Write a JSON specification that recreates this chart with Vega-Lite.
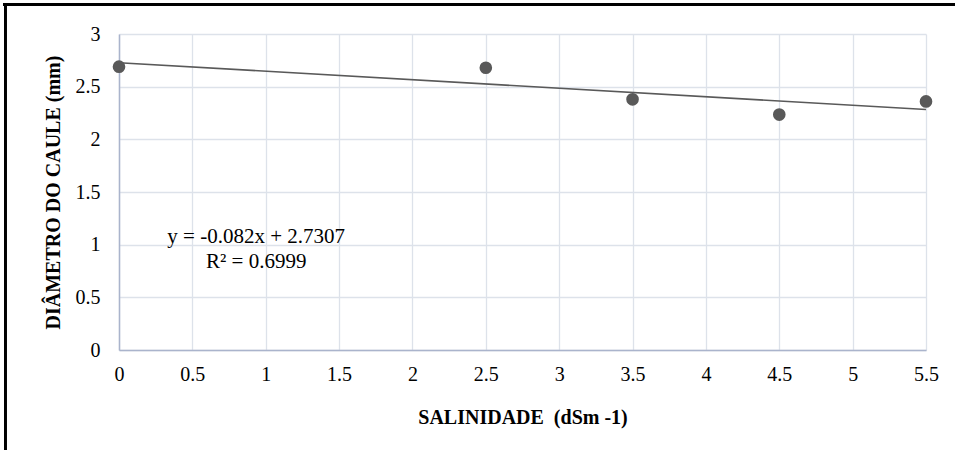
{
  "$schema": "https://vega.github.io/schema/vega-lite/v6.json",
  "width": 807,
  "height": 316,
  "autosize": {"type": "none"},
  "padding": {"left": 119, "top": 34, "right": 29, "bottom": 100},
  "background": "white",
  "config": {
    "view": {"stroke": null},
    "font": "Liberation Serif",
    "axis": {
      "labelFont": "Liberation Serif",
      "titleFont": "Liberation Serif",
      "labelFontSize": 20,
      "labelColor": "#000000",
      "titleColor": "#000000",
      "titleFontSize": 20,
      "titleFontWeight": "bold",
      "gridColor": "#dde2ea",
      "gridWidth": 1.3,
      "domainColor": "#aab4cc",
      "domainWidth": 1.5,
      "ticks": false
    }
  },
  "data": {
    "values": [
      {"salinidade": 0, "diametro": 2.69},
      {"salinidade": 2.5, "diametro": 2.68},
      {"salinidade": 3.5, "diametro": 2.38},
      {"salinidade": 4.5, "diametro": 2.235},
      {"salinidade": 5.5, "diametro": 2.36}
    ]
  },
  "layer": [
    {
      "transform": [
        {"regression": "diametro", "on": "salinidade", "extent": [0, 5.5]}
      ],
      "mark": {"type": "line", "color": "#595959", "strokeWidth": 1.6},
      "encoding": {
        "x": {
          "field": "salinidade",
          "type": "quantitative",
          "scale": {"domain": [0, 5.5], "nice": false, "zero": false},
          "axis": {
            "title": "SALINIDADE\u00a0 (dSm -1)",
            "values": [0, 0.5, 1, 1.5, 2, 2.5, 3, 3.5, 4, 4.5, 5, 5.5],
            "labelPadding": 14,
            "titlePadding": 23,
            "labelFlush": false,
            "format": "~g"
          }
        },
        "y": {
          "field": "diametro",
          "type": "quantitative",
          "scale": {"domain": [0, 3], "nice": false},
          "axis": {
            "title": "DIÂMETRO DO CAULE (mm)",
            "values": [0, 0.5, 1, 1.5, 2, 2.5, 3],
            "labelPadding": 19,
            "titlePadding": 12,
            "labelFlush": false,
            "format": "~g"
          }
        }
      }
    },
    {
      "mark": {"type": "circle", "color": "#595959", "opacity": 1, "size": 160},
      "encoding": {
        "x": {"field": "salinidade", "type": "quantitative"},
        "y": {"field": "diametro", "type": "quantitative"}
      }
    },
    {
      "data": {"values": [{"x": 0.935, "y": 1.07, "label": "y = -0.082x + 2.7307"}, {"x": 0.935, "y": 0.84, "label": "R² = 0.6999"}]},
      "mark": {"type": "text", "font": "Liberation Serif", "fontSize": 21, "color": "#000000", "align": "center", "baseline": "middle"},
      "encoding": {
        "x": {"field": "x", "type": "quantitative"},
        "y": {"field": "y", "type": "quantitative"},
        "text": {"field": "label"}
      }
    },
    {
      "mark": {"type": "rule", "color": "#000000", "strokeWidth": 2.5, "clip": false},
      "encoding": {
        "x": {"datum": -0.775},
        "y": {"datum": 3.28},
        "y2": {"datum": -0.95}
      }
    },
    {
      "mark": {"type": "rule", "color": "#000000", "strokeWidth": 2.5, "clip": false},
      "encoding": {
        "x": {"datum": -0.79},
        "x2": {"datum": 6.0},
        "y": {"datum": 3.28}
      }
    }
  ]
}
